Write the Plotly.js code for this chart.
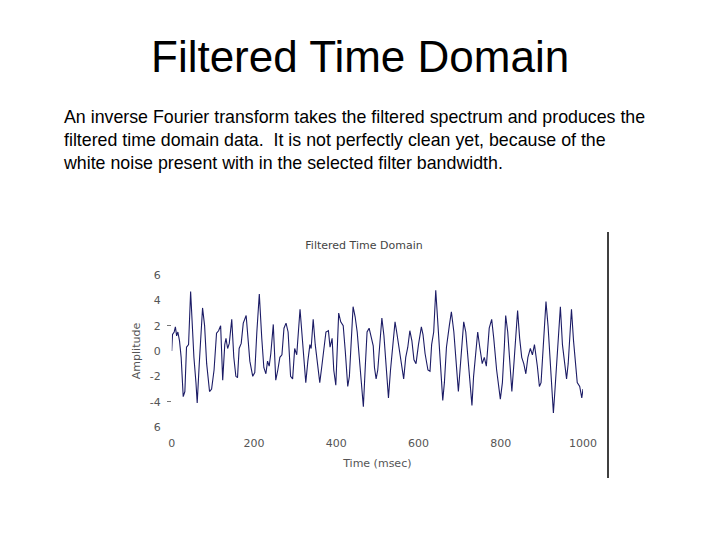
<!DOCTYPE html>
<html>
<head>
<meta charset="utf-8">
<script src="https://cdn.plot.ly/plotly-3.0.1.min.js"></script>
<style>html,body{margin:0;padding:0;background:#fff;}#chart{width:720px;height:540px;}</style>
</head>
<body>
<div id="chart"></div>
<script>
// Time (msec) of each sample
const timeMs = [0,2,6,9,12,15,19,23,28,32,36,41,46,51,54,59,62,67,72,75,80,85,92,97,103,109,114,119,124,129,132,136,140,146,151,156,160,164,169,174,181,185,190,197,202,207,213,219,224,229,233,237,241,247,253,258,263,268,273,278,283,289,294,299,304,312,318,326,331,336,339,344,349,354,360,365,370,375,381,385,390,394,399,403,406,411,417,422,428,432,437,441,446,451,456,461,466,471,475,480,486,490,493,497,501,506,511,516,521,527,532,537,543,547,552,558,564,569,574,579,584,589,594,600,607,611,616,623,628,632,637,642,647,652,659,663,668,675,680,686,691,697,701,705,710,715,720,725,730,734,740,744,749,755,760,765,772,778,783,790,799,804,809,812,817,822,827,832,837,841,846,851,856,861,866,872,877,882,889,894,898,903,910,915,920,928,932,939,945,950,955,960,964,972,977,981,986,992,997,1000];
// Amplitude of each sample
const amplitude = [0,1.3,1.5,1.9,1.2,1.5,0.8,-0.5,-3.6,-3.2,0.3,0.5,4.7,1.2,-0.5,-2.5,-4.1,-1.0,1.5,3.4,2.0,-1.0,-3.2,-3.0,-1.5,1.4,1.6,2.0,-2.3,0.5,1.0,0.2,0.6,2.5,-0.5,-2.0,-2.1,0.2,0.6,2.2,2.8,0.8,-0.8,-2.0,-1.7,1.5,4.5,1.0,-1.3,-1.8,-0.8,-1.2,-0.2,2.1,-2.3,-1.5,-0.5,-0.3,1.8,2.2,1.5,-2.0,-2.2,0.2,-0.3,3.3,0.8,-2.5,-0.8,0.5,0.2,2.5,0.5,-0.8,-2.5,-1.2,0.2,1.5,1.6,0.3,1.0,-1.5,-2.7,0.0,3.0,2.3,2.0,0.0,-2.8,-2.0,1.0,3.5,2.7,1.5,-0.5,-2.5,-4.4,-1.0,1.5,1.8,0.8,0.4,-1.3,-2.2,-1.5,0.5,2.6,1.2,-1.0,-3.7,-1.5,0.5,2.3,1.5,0.5,-1.0,-2.2,-0.5,0.3,1.6,0.8,-0.7,-1.0,0.5,1.9,1.3,-0.2,-1.5,-1.6,0.5,1.5,4.8,2.0,-1.0,-3.9,-2.5,0.3,2.0,3.1,1.5,-1.0,-3.2,-1.5,0.5,2.3,1.5,-0.3,-2.5,-4.3,-2.0,0.5,1.5,0.3,-1.0,-0.5,-1.2,1.8,2.5,1.0,-1.5,-3.8,-2.5,0.5,2.8,1.5,-1.0,-3.2,-1.0,1.5,3.2,1.0,-0.5,-1.0,-1.8,-0.5,0.2,-0.3,0.5,-1.2,-2.8,-2.5,0.5,3.9,2.0,-1.0,-4.9,-3.0,0.5,3.5,0.5,-0.7,-2.2,-1.0,3.3,0.8,-0.5,-2.5,-2.8,-3.7,-3.0];
// Tick labels as printed
const xTickVals = [0,200,400,600,800,1000];
const xTickText = ['0','200','400','600','800','1000'];
const yTickVals = [6,4,2,0,-2,-4,-6];
const yTickText = ['6','4','2','0','-2','-4','6'];

const slideTitle = 'Filtered Time Domain';
const slideBody = 'An inverse Fourier transform takes the filtered spectrum and produces the<br>filtered time domain data.  It is not perfectly clean yet, because of the<br>white noise present with in the selected filter bandwidth.';

const W = 720, H = 540;
const px = x => x / W;
const py = y => 1 - y / H;

const tickFont = {family: 'DejaVu Sans, Verdana, sans-serif', size: 11, color: '#555'};

const data = [
  {x: timeMs, y: amplitude, type: 'scatter', mode: 'lines',
   line: {color: '#1c1c66', width: 1.1}, hoverinfo: 'skip', showlegend: false},
  {x: [null], y: [null], yaxis: 'y2', type: 'scatter', mode: 'lines', showlegend: false, hoverinfo: 'skip'}
];

const layout = {
  width: W, height: H,
  margin: {l: 0, r: 0, t: 0, b: 0},
  paper_bgcolor: '#fff', plot_bgcolor: '#fff',
  showlegend: false,
  title: {text: 'Filtered Time Domain', font: {family: 'DejaVu Sans, Verdana, sans-serif', size: 11, color: '#444'},
          x: px(364), xanchor: 'center', y: py(245), yanchor: 'middle', xref: 'paper', yref: 'paper'},
  xaxis: {
    domain: [px(171.7), px(583)], range: [0, 1000],
    tickvals: xTickVals, ticktext: xTickText, ticks: '', showgrid: false, zeroline: false,
    showline: false, tickfont: tickFont, ticklabelstandoff: 8,
    title: {text: 'Time (msec)', font: tickFont, standoff: 10}
  },
  yaxis: {
    domain: [py(427), py(275)], range: [-6, 6],
    tickvals: yTickVals, ticktext: yTickText, ticks: '', showgrid: false, zeroline: false,
    showline: false, tickfont: tickFont, ticklabelstandoff: 10,
    title: {text: 'Amplitude', font: tickFont, standoff: 6}
  },
  yaxis2: {
    overlaying: 'y', range: [-6, 6], tickvals: [2, -4], showticklabels: false,
    ticks: 'outside', ticklen: 4, tickcolor: '#777', tickwidth: 1,
    showgrid: false, zeroline: false, showline: false
  },
  shapes: [
    {type: 'line', xref: 'paper', yref: 'paper', x0: px(608), x1: px(608), y0: py(232), y1: py(478),
     line: {color: '#000', width: 1.5}}
  ],
  annotations: [
    {text: slideTitle, xref: 'paper', yref: 'paper', x: px(360), y: py(57), xanchor: 'center', yanchor: 'middle',
     showarrow: false, font: {family: 'Liberation Sans, Arial, sans-serif', size: 44, color: '#000'}},
    {text: slideBody, xref: 'paper', yref: 'paper', x: px(61), y: py(105), xanchor: 'left', yanchor: 'top',
     align: 'left', showarrow: false, font: {family: 'Liberation Sans, Arial, sans-serif', size: 17.8, color: '#000'}}
  ]
};

Plotly.newPlot('chart', data, layout, {displayModeBar: false, staticPlot: true});
</script>
</body>
</html>
